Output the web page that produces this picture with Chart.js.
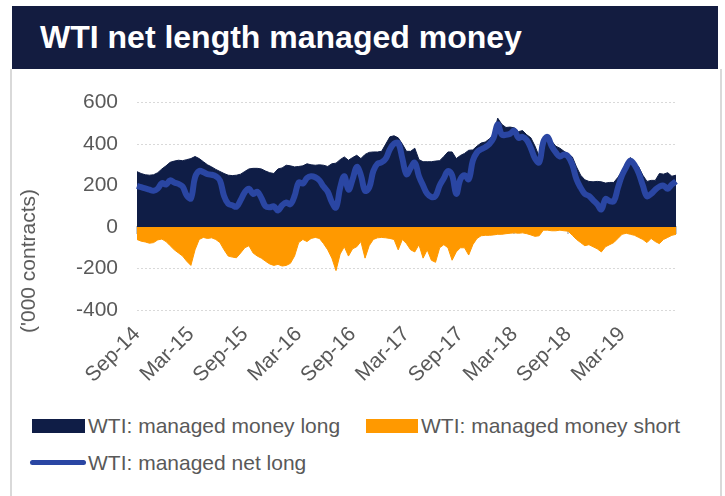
<!DOCTYPE html>
<html>
<head>
<meta charset="utf-8">
<script src="https://cdn.jsdelivr.net/npm/chart.js@4.4.1/dist/chart.umd.min.js"></script>
<style>
  body { margin: 0; width: 725px; height: 496px; background: #fff; font-family: "Liberation Sans", Arial, sans-serif; position: relative; overflow: hidden; }
  .title { position: absolute; left: 12px; top: 6px; width: 706px; height: 63px; background: #131c40; color: #fff; font-weight: bold; font-size: 32px; line-height: 63px; padding-left: 28px; box-sizing: border-box; }
  .panel { position: absolute; left: 10px; top: 69px; width: 712px; height: 427px; border-left: 2px solid #d9d9d9; border-right: 2px solid #d9d9d9; box-sizing: border-box; }
  .chart_wrap { position: absolute; left: 12px; top: 71px; width: 700px; height: 340px; }
  .y_title { position: absolute; left: 28px; top: 261px; transform: translate(-50%, -50%) rotate(-90deg); white-space: nowrap; color: #595959; font-size: 21px; }
  .legend_item { position: absolute; color: #595959; font-size: 21px; white-space: nowrap; line-height: 24px; }
  .swatch { position: absolute; }
</style>
</head>
<body>
<div class="title">WTI net length managed money</div>
<div class="panel"></div>
<div class="chart_wrap"><canvas id="wtiChart" width="700" height="340"></canvas></div>
<div class="y_title">('000 contracts)</div>

<div class="swatch" style="left:32px; top:419px; width:53px; height:14px; background:#0f1d46;"></div>
<div class="legend_item" style="left:88px; top:414px;">WTI: managed money long</div>
<div class="swatch" style="left:366px; top:419px; width:52px; height:14px; background:#ff9900;"></div>
<div class="legend_item" style="left:421px; top:414px;">WTI: managed money short</div>
<div class="swatch" style="left:30px; top:460px; width:56px; height:5px; border-radius:3px; background:#2a46a3;"></div>
<div class="legend_item" style="left:88px; top:451px;">WTI: managed net long</div>

<script>
// biweekly points, Sep-14 .. Sep-19 ('000 contracts)
const tickLabels = ["Sep-14", "Mar-15", "Sep-15", "Mar-16", "Sep-16", "Mar-17", "Sep-17", "Mar-18", "Sep-18", "Mar-19"];

const longValues = [
  267, 258, 252, 250, 252, 262, 280, 295, 312, 318, 322, 320, 325, 330, 340, 330, 315, 300, 290, 278, 268, 258, 250, 248, 250, 255, 268,
  280, 283, 283, 280, 270, 262, 258, 280, 285, 298, 295, 290, 292, 295, 305, 300, 298, 300, 298, 292, 305, 308, 325, 338, 322, 335,
  346, 330, 350, 360, 362, 362, 365, 400, 435, 440, 430, 400, 365, 365, 380, 325, 315, 315, 315, 318, 320, 340, 362, 362, 330, 345,
  355, 370, 372, 390, 405, 410, 425, 445, 525, 495, 480, 482, 478, 460, 465, 445, 430, 390, 340, 430, 440, 415, 390, 380, 365, 352,
  338, 290, 250, 228, 220, 218, 220, 218, 212, 215, 215, 240, 270, 310, 335, 310, 290, 250, 220, 225, 225, 258, 255, 262, 245, 250
];

const shortValues = [
  -60, -68, -72, -78, -75, -62, -58, -70, -90, -110, -125, -140, -165, -185, -110, -60, -50, -55, -52, -60, -75, -110, -140, -145, -148, -125, -100,
  -90, -125, -140, -150, -165, -178, -185, -180, -188, -185, -175, -140, -75, -60, -70, -55, -50, -55, -80, -110, -150, -210, -130, -95, -140, -105,
  -95, -70, -150, -90, -60, -52, -50, -52, -55, -60, -110, -60, -80, -110, -120, -85, -150, -110, -160, -170, -100, -85, -100, -160, -120, -100,
  -100, -135, -85, -55, -42, -40, -40, -38, -35, -35, -32, -30, -28, -30, -28, -32, -38, -45, -42, -15, -15, -18, -18, -15, -18, -20,
  -40, -60, -75, -90, -85, -95, -105, -120, -95, -85, -75, -55, -35, -30, -35, -40, -50, -60, -75, -55, -70, -80, -60, -50, -40, -35
];

const netValues = [
  198, 192, 186, 180, 175, 185, 212, 205, 225, 215, 208, 195, 152, 138, 240, 270, 265, 255, 252, 245, 225, 150, 112, 105, 98, 130, 168,
  185, 160, 170, 140, 100, 95, 100, 80, 105, 118, 110, 150, 215, 210, 236, 245, 240, 225, 195, 170, 120, 94, 190, 245, 180, 230,
  290, 250, 175, 190, 270, 305, 312, 330, 375, 402, 405, 330, 255, 285, 310, 245, 200, 160, 145, 150, 200, 235, 270, 250, 160, 230,
  250, 230, 320, 360, 375, 385, 400, 430, 495, 445, 445, 450, 465, 430, 435, 420, 380, 330, 312, 410, 435, 390, 360, 340, 350, 340,
  300, 230, 190, 160, 150, 130, 110, 85, 135, 125, 125, 190, 250, 290, 320, 300, 260, 200, 148, 160, 180, 195, 200, 185, 205, 220
];

// one category per two weeks, starting at the first report shown
const categories = [];
const startDate = new Date(2014, 8, 2);
for (let i = 0; i < longValues.length; i++) {
  const d = new Date(startDate.getTime() + i * 14 * 86400000);
  categories.push(d.toISOString().slice(0, 10));
}

const textGrey = "#595959";
const ctx = document.getElementById("wtiChart").getContext("2d");

const wtiChart = new Chart(ctx, {
  type: "line",
  data: {
    labels: categories,
    datasets: [
      {
        label: "WTI: managed net long",
        data: netValues,
        borderColor: "#2a46a3",
        borderWidth: 6,
        fill: false,
        tension: 0.4,
        pointRadius: 0,
        order: 0,
      },
      {
        label: "WTI: managed money long",
        data: longValues,
        borderColor: "#0f1d46",
        backgroundColor: "#0f1d46",
        borderWidth: 1,
        fill: "origin",
        tension: 0,
        pointRadius: 0,
        order: 1,
      },
      {
        label: "WTI: managed money short",
        data: shortValues,
        borderColor: "#ff9900",
        backgroundColor: "#ff9900",
        borderWidth: 1,
        fill: "origin",
        tension: 0,
        pointRadius: 0,
        order: 2,
      },
    ],
  },
  options: {
    responsive: false,
    animation: false,
    layout: {
      padding: { left: 0, right: 36, top: 29, bottom: 0 },
    },
    plugins: {
      legend: { display: false },
      tooltip: { enabled: false },
    },
    scales: {
      x: {
        type: "category",
        offset: false,
        grid: { display: false, drawTicks: false },
        border: { display: false },
        ticks: {
          autoSkip: false,
          maxRotation: 45,
          minRotation: 45,
          padding: 12,
          color: textGrey,
          font: { size: 21, family: "Liberation Sans" },
          callback: (value, index) =>
            index % 13 === 0 && index / 13 < tickLabels.length ? tickLabels[index / 13] : null,
        },
        afterFit: (scale) => {
          scale.height = 101;
        },
      },
      x2: {
        type: "category",
        axis: "x",
        position: { y: 0 },
        offset: false,
        ticks: { display: false, autoSkip: false },
        grid: {
          drawOnChartArea: false,
          drawTicks: true,
          tickLength: 6,
          lineWidth: 2,
          color: (c) => (c.index % 13 === 0 ? "#c8c8c8" : "rgba(0,0,0,0)"),
        },
        border: { display: true, color: "#c8c8c8", width: 2 },
      },
      y: {
        min: -400,
        max: 600,
        ticks: {
          stepSize: 200,
          padding: 19,
          color: textGrey,
          font: { size: 21, family: "Liberation Sans" },
        },
        grid: { color: "#d9d9d9", drawTicks: false, lineWidth: 1 },
        border: { display: false, dash: [2, 2] },
        afterFit: (scale) => {
          scale.width = 125;
        },
      },
    },
  },
});
</script>
</body>
</html>
